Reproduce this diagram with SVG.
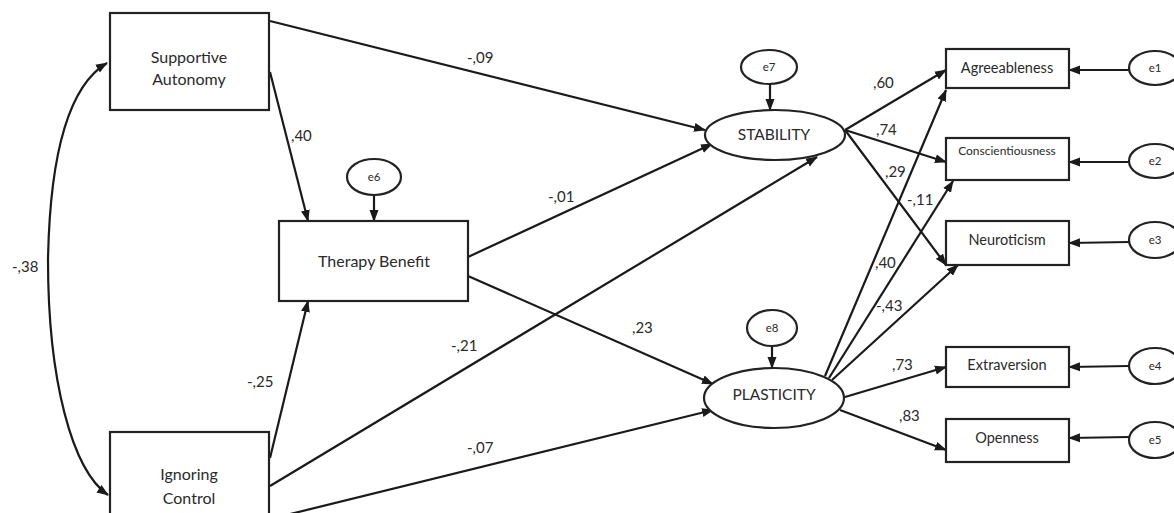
<svg xmlns="http://www.w3.org/2000/svg" width="1174" height="513" viewBox="0 0 1174 513">
<style>
.box{fill:#fff;stroke:#222;stroke-width:2.2}
.ell{fill:#fff;stroke:#222;stroke-width:2.2}
.t{font-family:Lato,"Open Sans",sans-serif;fill:#2a2a2a;text-anchor:middle}
.lbl{font-family:Lato,"Open Sans",sans-serif;fill:#2a2a2a;font-size:15px}
.c{fill:none;stroke:#1a1a1a;stroke-width:2.2;marker-end:url(#ah)}
</style>
<defs>
<marker id="ah" markerUnits="userSpaceOnUse" markerWidth="12" markerHeight="10" refX="11" refY="4.5" orient="auto-start-reverse" viewBox="0 0 12 9">
<path d="M0,0 L12,4.5 L0,9 z" fill="#1a1a1a"/>
</marker>
</defs>
<rect width="1174" height="513" fill="#fff"/>

<g id="connectors">
<path class="c" d="M107,63 C70,85 50,150 48,260 C48,380 72,470 108,495" marker-start="url(#ah)"/>
<line class="c" x1="270" y1="72" x2="308" y2="221"/>
<line class="c" x1="270" y1="458" x2="308" y2="301"/>
<line class="c" x1="270" y1="21" x2="705" y2="130"/>
<line class="c" x1="468" y1="257" x2="712" y2="144"/>
<line class="c" x1="270" y1="486" x2="817" y2="157"/>
<line class="c" x1="468" y1="276" x2="713" y2="384"/>
<line class="c" x1="270" y1="519" x2="713" y2="410"/>
<line class="c" x1="374" y1="195" x2="374" y2="221"/>
<line class="c" x1="770" y1="84" x2="770" y2="110"/>
<line class="c" x1="772" y1="346" x2="772" y2="368"/>
<line class="c" x1="845" y1="130" x2="946" y2="70"/>
<line class="c" x1="845" y1="130" x2="946" y2="162"/>
<line class="c" x1="845" y1="130" x2="946" y2="265"/>
<line class="c" x1="825" y1="376" x2="946" y2="90"/>
<line class="c" x1="829" y1="378" x2="953" y2="181"/>
<line class="c" x1="832" y1="380" x2="958" y2="265"/>
<line class="c" x1="845" y1="397" x2="946" y2="367"/>
<line class="c" x1="840" y1="410" x2="946" y2="450"/>
<line class="c" x1="1129" y1="70" x2="1069" y2="70"/>
<line class="c" x1="1129" y1="162" x2="1069" y2="162"/>
<line class="c" x1="1129" y1="242" x2="1069" y2="243"/>
<line class="c" x1="1129" y1="366" x2="1069" y2="367"/>
<line class="c" x1="1129" y1="437" x2="1069" y2="438"/>
<text class="lbl" x="12" y="272">-,38</text>
<text class="lbl" x="291" y="141">,40</text>
<text class="lbl" x="247" y="387">-,25</text>
<text class="lbl" x="467" y="63">-,09</text>
<text class="lbl" x="548" y="202">-,01</text>
<text class="lbl" x="451" y="351">-,21</text>
<text class="lbl" x="632" y="333">,23</text>
<text class="lbl" x="467" y="453">-,07</text>
<text class="lbl" x="873" y="88">,60</text>
<text class="lbl" x="876" y="135">,74</text>
<text class="lbl" x="885" y="177">,29</text>
<text class="lbl" x="907" y="205">-,11</text>
<text class="lbl" x="875" y="268">,40</text>
<text class="lbl" x="876" y="311">-,43</text>
<text class="lbl" x="892" y="370">,73</text>
<text class="lbl" x="899" y="421">,83</text>
</g>

<g id="supportive-autonomy">
<rect class="box" x="110" y="13" width="159" height="97"/>
<text class="t" x="189" y="63" font-size="16">Supportive</text>
<text class="t" x="189" y="85" font-size="16">Autonomy</text>
</g>
<g id="therapy-benefit">
<rect class="box" x="279" y="221" width="189" height="80"/>
<text class="t" x="374" y="267" font-size="16">Therapy Benefit</text>
</g>
<g id="ignoring-control">
<rect class="box" x="110" y="432" width="159" height="100"/>
<text class="t" x="189" y="480" font-size="16">Ignoring</text>
<text class="t" x="189" y="504" font-size="16">Control</text>
</g>
<g id="e6">
<ellipse class="ell" cx="374" cy="177" rx="27" ry="18"/>
<text class="t" x="374" y="181" font-size="11.5">e6</text>
</g>
<g id="e7">
<ellipse class="ell" cx="769" cy="67" rx="28" ry="17"/>
<text class="t" x="769" y="71" font-size="11.5">e7</text>
</g>
<g id="e8">
<ellipse class="ell" cx="772" cy="328" rx="25" ry="18"/>
<text class="t" x="772" y="332" font-size="11.5">e8</text>
</g>
<g id="stability">
<ellipse class="ell" cx="775" cy="135" rx="70" ry="25"/>
<text class="t" x="774" y="140" font-size="15.5">STABILITY</text>
</g>
<g id="plasticity">
<ellipse class="ell" cx="774" cy="398" rx="70" ry="30"/>
<text class="t" x="774" y="400" font-size="15.5">PLASTICITY</text>
</g>
<g id="agreeableness">
<rect class="box" x="946" y="49" width="123" height="39"/>
<text class="t" x="1007" y="73" font-size="14.5">Agreeableness</text>
</g>
<g id="conscientiousness">
<rect class="box" x="946" y="138" width="123" height="42"/>
<text class="t" x="1007" y="155" font-size="12">Conscientiousness</text>
</g>
<g id="neuroticism">
<rect class="box" x="946" y="221" width="123" height="44"/>
<text class="t" x="1007" y="245" font-size="14.5">Neuroticism</text>
</g>
<g id="extraversion">
<rect class="box" x="946" y="347" width="123" height="40"/>
<text class="t" x="1007" y="370" font-size="14.5">Extraversion</text>
</g>
<g id="openness">
<rect class="box" x="946" y="419" width="123" height="43"/>
<text class="t" x="1007" y="443" font-size="14.5">Openness</text>
</g>
<g id="e1">
<ellipse class="ell" cx="1155" cy="68" rx="26" ry="17"/>
<text class="t" x="1155" y="72" font-size="11.5">e1</text>
</g>
<g id="e2">
<ellipse class="ell" cx="1155" cy="161" rx="26" ry="17"/>
<text class="t" x="1155" y="165" font-size="11.5">e2</text>
</g>
<g id="e3">
<ellipse class="ell" cx="1155" cy="240" rx="26" ry="18"/>
<text class="t" x="1155" y="244" font-size="11.5">e3</text>
</g>
<g id="e4">
<ellipse class="ell" cx="1155" cy="366" rx="26" ry="18"/>
<text class="t" x="1155" y="370" font-size="11.5">e4</text>
</g>
<g id="e5">
<ellipse class="ell" cx="1155" cy="440" rx="26" ry="18"/>
<text class="t" x="1155" y="444" font-size="11.5">e5</text>
</g>
</svg>
